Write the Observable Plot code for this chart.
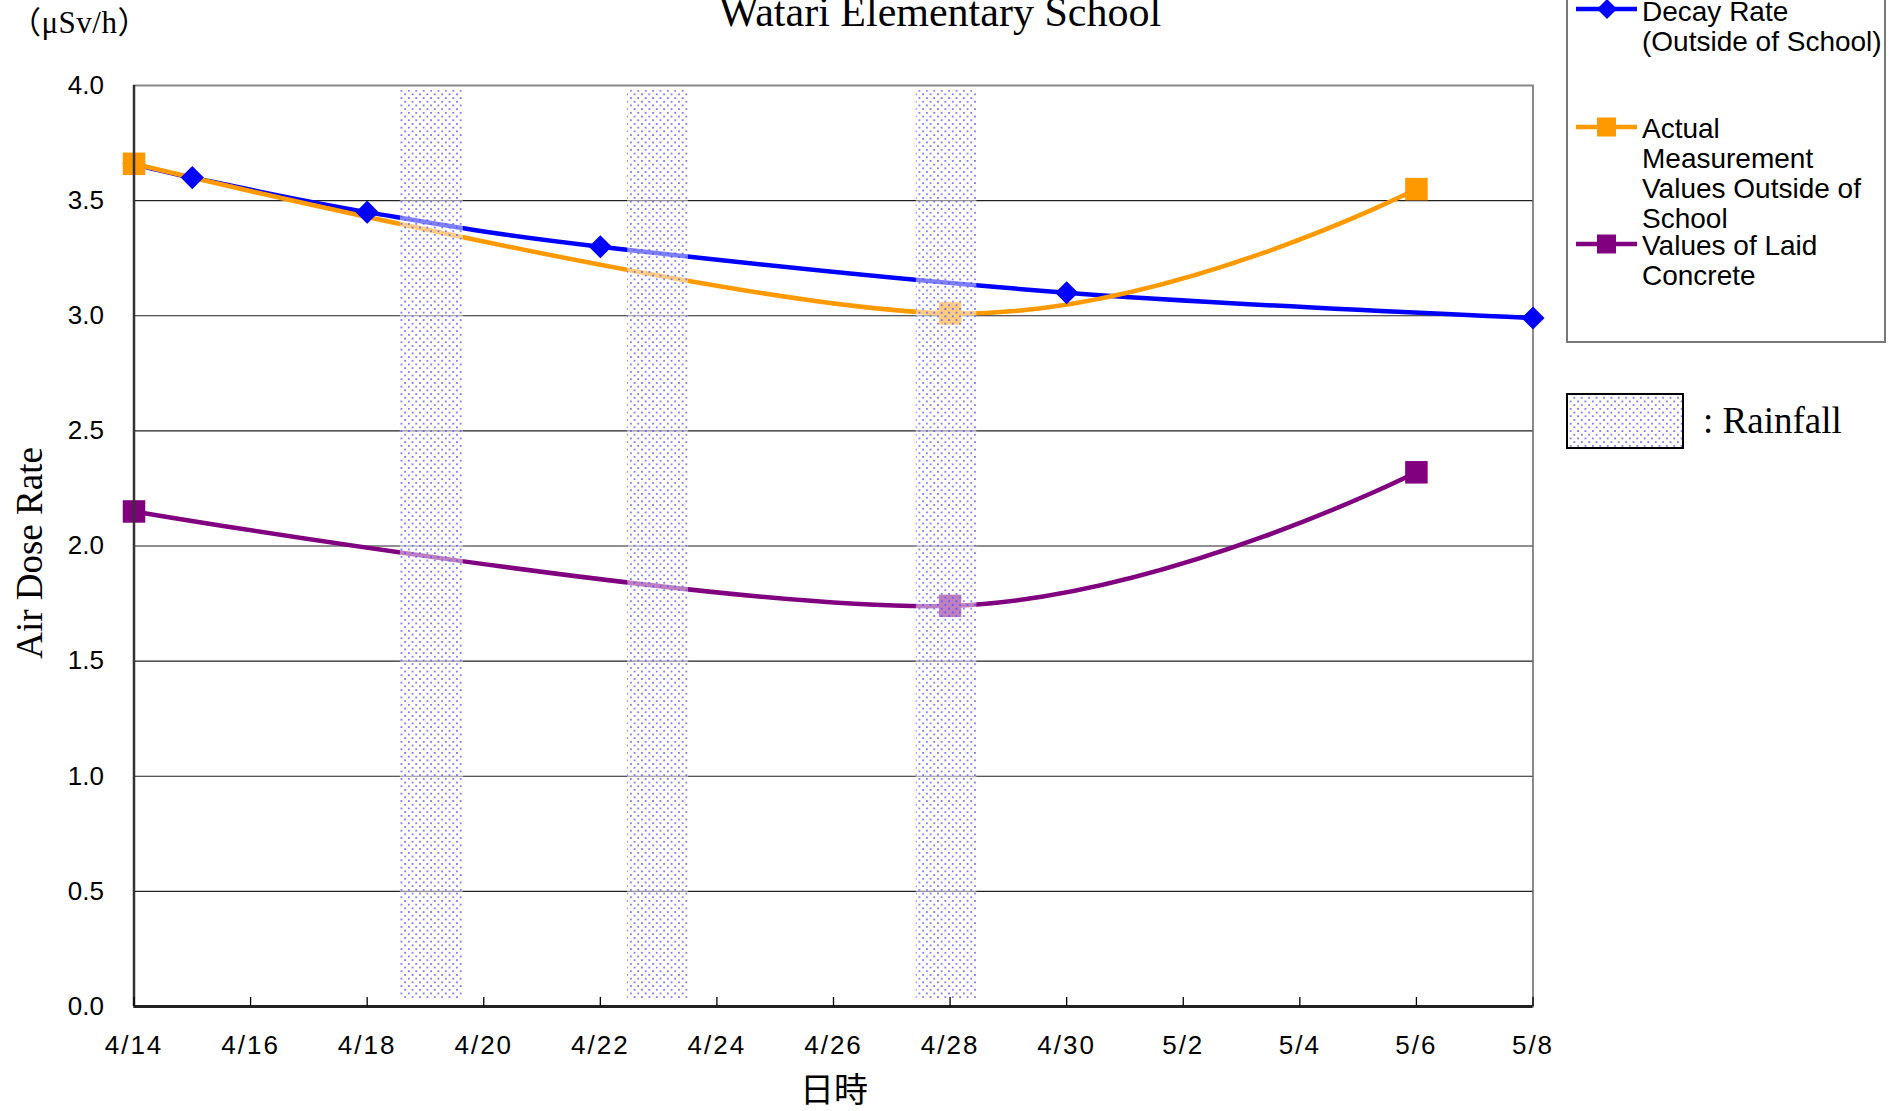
<!DOCTYPE html>
<html>
<head>
<meta charset="utf-8">
<script src="https://cdn.jsdelivr.net/npm/d3@7"></script>
<script src="https://cdn.jsdelivr.net/npm/@observablehq/plot@0.6"></script>
<style>
  html, body { margin: 0; padding: 0; background: #fff; }
  #wrap { position: relative; width: 1901px; height: 1111px; overflow: hidden; background: #fff; }
  #wrap svg { position: absolute; left: 0; top: 0; }
  g[aria-label="x-axis tick label"] text { letter-spacing: 2px; }
</style>
</head>
<body>
<div id="wrap"></div>
<script>
// ---------- data ----------
const titleText = "Watari Elementary School";
const unitText = "（μSv/h）";
const yLabelText = "Air Dose Rate";
const xLabelText = "日時";

const xDomain = ["2011-04-14", "2011-05-08"];
const xTickDates = ["2011-04-14","2011-04-16","2011-04-18","2011-04-20","2011-04-22","2011-04-24",
  "2011-04-26","2011-04-28","2011-04-30","2011-05-02","2011-05-04","2011-05-06","2011-05-08"];
const yTickValues = [0, 0.5, 1.0, 1.5, 2.0, 2.5, 3.0, 3.5, 4.0];

const decayDates = ["2011-04-14","2011-04-15","2011-04-18","2011-04-22","2011-04-30","2011-05-08"];
const decayValues = [3.66, 3.60, 3.45, 3.30, 3.10, 2.99];

const measureDates = ["2011-04-14","2011-04-28","2011-05-06"];
const outsideValues = [3.66, 3.01, 3.55];
const concreteValues = [2.15, 1.74, 2.32];

const rainStart = ["2011-04-18T13:40","2011-04-22T11:15","2011-04-27T10:05"];
const rainEnd   = ["2011-04-19T15:35","2011-04-23T12:15","2011-04-28T11:00"];

const seriesNames = ["Decay Rate\n(Outside of School)", "Actual\nMeasurement\nValues Outside of\nSchool", "Values of Laid\nConcrete"];
const seriesColors = ["#0000ff", "#ff9900", "#800080"];
const rainLabel = ": Rainfall";

// ---------- build ----------
const pDay = d3.utcParse("%Y-%m-%d");
const pTime = d3.utcParse("%Y-%m-%dT%H:%M");
const pd = s => s.length > 10 ? pTime(s) : pDay(s);

const decay = decayDates.map((d, i) => ({date: pd(d), value: decayValues[i]}));
const outside = measureDates.map((d, i) => ({date: pd(d), value: outsideValues[i]}));
const concrete = measureDates.map((d, i) => ({date: pd(d), value: concreteValues[i]}));
const rain = rainStart.map((s, i) => ({start: pd(s), end: pd(rainEnd[i])}));
const xTicks = xTickDates.map(pd);
const gridValues = yTickValues.filter(v => v > 0 && v < 4);

const W = 1901, H = 1111, mL = 133.5, mR = 368.5, mT = 85, mB = 105;
const innerH = H - mT - mB;
const lineOpts = (c) => ({x: "date", y: "value", stroke: c, strokeWidth: 4.5, curve: "cardinal"});

const chart = Plot.plot({
  width: W, height: H,
  marginLeft: mL, marginRight: mR, marginTop: mT, marginBottom: mB,
  style: {fontFamily: "'Liberation Sans', Arial, sans-serif", fontSize: "26px", color: "#000", background: "transparent", overflow: "visible"},
  x: {type: "utc", domain: xDomain.map(pd)},
  y: {domain: [yTickValues[0], yTickValues[yTickValues.length - 1]]},
  marks: [
    Plot.frame({stroke: "#8a8a8a", strokeWidth: 2}),
    Plot.ruleY(gridValues, {stroke: "#222", strokeWidth: 1.2}),
    Plot.line(decay, lineOpts(seriesColors[0])),
    Plot.line(outside, lineOpts(seriesColors[1])),
    Plot.line(concrete, lineOpts(seriesColors[2])),
    Plot.dot(decay, {x: "date", y: "value", symbol: "diamond2", r: 10.4, fill: seriesColors[0], stroke: "none"}),
    Plot.dot(outside, {x: "date", y: "value", symbol: "square", r: 12.7, fill: seriesColors[1], stroke: "none"}),
    Plot.dot(concrete, {x: "date", y: "value", symbol: "square", r: 12.7, fill: seriesColors[2], stroke: "none"}),
    Plot.rect(rain, {x1: "start", x2: "end", fill: "url(#rainPattern)", insetTop: 5, insetBottom: 6}),
    Plot.ruleX([xTicks[0]], {stroke: "#333", strokeWidth: 2.5}),
    Plot.ruleY([yTickValues[0]], {stroke: "#222", strokeWidth: 3}),
    Plot.tickX(xTicks, {x: d => d, stroke: "#000", strokeWidth: 1.3, insetTop: innerH - 9}),
    Plot.axisY({ticks: yTickValues, tickSize: 0, tickPadding: 30, tickFormat: d => d.toFixed(1), label: null}),
    Plot.axisX({ticks: xTicks, tickSize: 0, tickPadding: 29, tickFormat: d3.utcFormat("%-m/%-d"), label: null})
  ]
});

const wrap = document.getElementById("wrap");
wrap.appendChild(chart);

// pattern definition
const defs = d3.select(chart).insert("defs", ":first-child");
const pat = defs.append("pattern").attr("id", "rainPattern").attr("patternUnits", "userSpaceOnUse")
  .attr("width", 7.4).attr("height", 7.4);
pat.append("rect").attr("width", 7.4).attr("height", 7.4).attr("fill", "#fff").attr("fill-opacity", 0.5);
pat.append("circle").attr("cx", 1.85).attr("cy", 1.85).attr("r", 0.95).attr("fill", "#4444ff").attr("fill-opacity", 0.9);
pat.append("circle").attr("cx", 5.55).attr("cy", 5.55).attr("r", 0.95).attr("fill", "#4444ff").attr("fill-opacity", 0.9);

// ---------- overlay: titles & legend ----------
const ov = d3.select(wrap).append("svg").attr("width", W).attr("height", H).style("pointer-events", "none");
const serif = "'Liberation Serif', 'Times New Roman', serif";
const sans = "'Liberation Sans', Arial, sans-serif";

ov.append("text").attr("x", 940).attr("y", 26).attr("text-anchor", "middle")
  .attr("font-family", serif).attr("font-size", 42).text(titleText);
ov.append("text").attr("x", 10).attr("y", 33)
  .attr("font-family", "'Liberation Serif', 'Noto Sans CJK JP', serif").attr("font-size", 31).attr("letter-spacing", 0.5).text(unitText);
ov.append("text").attr("transform", "translate(42,553) rotate(-90)").attr("text-anchor", "middle")
  .attr("font-family", serif).attr("font-size", 37).text(yLabelText);
ov.append("text").attr("x", 834).attr("y", 1102).attr("text-anchor", "middle")
  .attr("font-family", "'Noto Sans CJK JP', sans-serif").attr("font-size", 34).text(xLabelText);

// legend box
ov.append("rect").attr("x", 1567).attr("y", -20).attr("width", 318).attr("height", 362)
  .attr("fill", "#fff").attr("stroke", "#777").attr("stroke-width", 2);

const entryLineY = [9, 127, 244];
const entryBase = [21, 138, 255];
seriesNames.forEach((name, i) => {
  const g = ov.append("g");
  const y = entryLineY[i];
  g.append("line").attr("x1", 1576).attr("x2", 1637).attr("y1", y).attr("y2", y)
    .attr("stroke", seriesColors[i]).attr("stroke-width", 4.5);
  if (i === 0) {
    g.append("path").attr("d", `M1607,${y - 10}L1617,${y}L1607,${y + 10}L1597,${y}Z`).attr("fill", seriesColors[i]);
  } else {
    g.append("rect").attr("x", 1597).attr("y", y - 9.5).attr("width", 19).attr("height", 19).attr("fill", seriesColors[i]);
  }
  name.split("\n").forEach((line, j) => {
    g.append("text").attr("x", 1642).attr("y", entryBase[i] + j * 30)
      .attr("font-family", sans).attr("font-size", 28).text(line);
  });
});

// rainfall legend
ov.append("rect").attr("x", 1567).attr("y", 394).attr("width", 116).attr("height", 54)
  .attr("fill", "#fff");
ov.append("rect").attr("x", 1567).attr("y", 394).attr("width", 116).attr("height", 54)
  .attr("fill", "url(#rainPattern)").attr("stroke", "#000").attr("stroke-width", 2);
ov.append("text").attr("x", 1703).attr("y", 433).attr("font-family", serif).attr("font-size", 37).text(rainLabel);
</script>
</body>
</html>
